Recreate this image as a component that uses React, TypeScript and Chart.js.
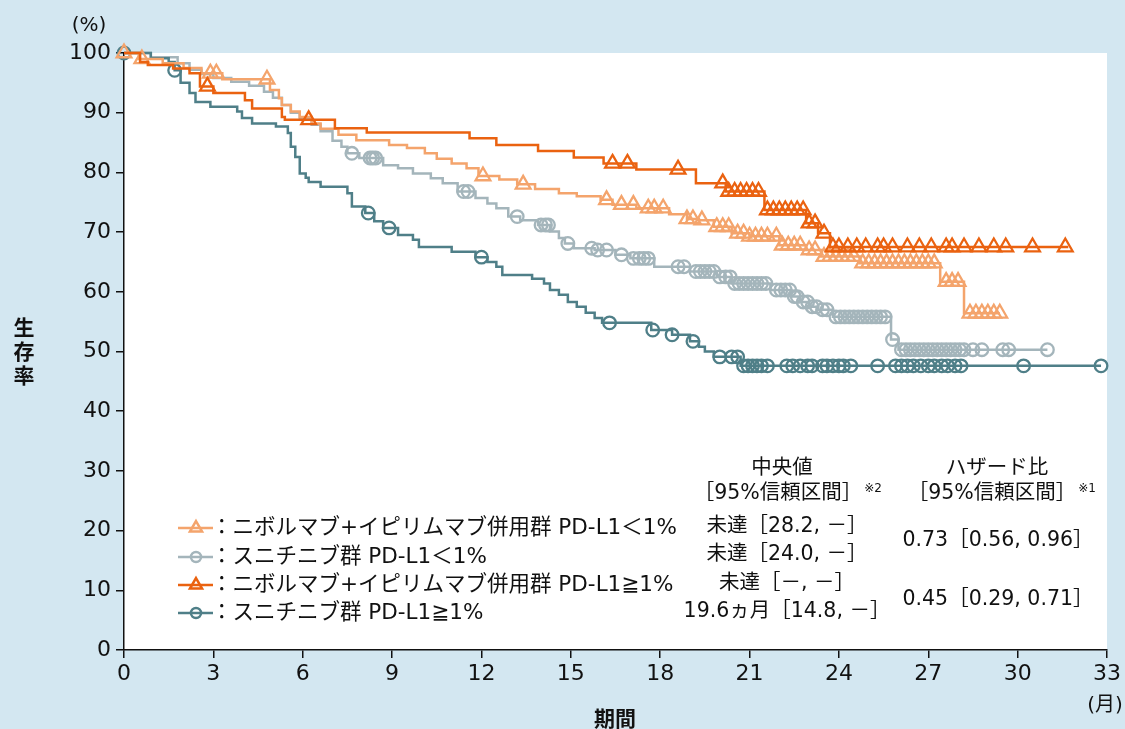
import React, { useEffect, useRef } from 'react';
import { Chart, registerables } from 'chart.js';

Chart.register(...registerables);

const FONT = '"DejaVu Sans", "Noto Sans CJK JP", sans-serif';
const JP_FONT = '"Noto Sans CJK JP", sans-serif';
const BG = '#d3e7f1';

const COLOR_NIVO_LOW = '#f4a46c';
const COLOR_SUNI_LOW = '#a4b5bb';
const COLOR_NIVO_HIGH = '#ea6210';
const COLOR_SUNI_HIGH = '#4f7f88';

const X_TICKS = [0, 3, 6, 9, 12, 15, 18, 21, 24, 27, 30, 33];
const Y_TICKS = [0, 10, 20, 30, 40, 50, 60, 70, 80, 90, 100];

// ニボルマブ+イピリムマブ併用群 PD-L1<1%
const nivoLowTimes = [0, 0.5, 1.3, 2.0, 2.6, 3.3, 4.9, 5.2, 5.3, 5.6, 5.9, 6.3, 6.6, 7.2, 7.8, 8.9, 9.5, 10.1, 10.5, 11.0, 11.5, 11.9, 12.6, 13.2, 13.8, 14.6, 15.2, 16.0, 16.4, 17.2, 18.3, 18.9, 19.3, 19.8, 20.4, 21.0, 22.0, 22.9, 23.4, 24.7, 27.4, 28.2];
const nivoLowSurv = [100, 99, 98.3, 97.5, 96.6, 95.6, 93.8, 92.4, 91.3, 90.2, 89.3, 88.2, 87.3, 86.3, 85.4, 84.6, 84.1, 83.2, 82.3, 81.5, 80.7, 79.4, 78.8, 78, 77.2, 76.5, 76, 75.4, 74.6, 74, 73, 72.2, 72, 70.9, 69.8, 69.3, 67.8, 67, 65.9, 64.8, 61.7, 56.4];
const nivoLowCensor = [0, 0.6, 2.9, 3.1, 4.8, 12.05, 13.4, 16.2, 16.7, 17.1, 17.6, 17.8, 18.1, 18.9, 19.1, 19.4, 19.9, 20.1, 20.3, 20.6, 20.8, 21.0, 21.2, 21.4, 21.6, 21.9, 22.1, 22.3, 22.5, 22.7, 23.0, 23.2, 23.5, 23.7, 23.9, 24.1, 24.3, 24.5, 24.8, 25.0, 25.2, 25.4, 25.6, 25.8, 26.0, 26.2, 26.4, 26.6, 26.8, 27.0, 27.2, 27.6, 27.8, 28.0, 28.4, 28.6, 28.8, 29.0, 29.2, 29.4];
const nivoLowEnd = 29.4;

// スニチニブ群 PD-L1<1%
const suniLowTimes = [0, 0.9, 1.8, 2.2, 2.6, 3.0, 3.6, 4.2, 4.7, 5.0, 5.3, 5.6, 5.9, 6.3, 6.6, 7.0, 7.3, 7.5, 7.9, 8.7, 9.2, 9.7, 10.3, 10.7, 11.2, 11.8, 12.2, 12.5, 12.9, 13.3, 13.9, 14.3, 14.6, 14.8, 15.1, 15.8, 16.5, 17.0, 17.8, 19.0, 19.9, 20.4, 21.7, 22.4, 22.7, 23.0, 23.3, 23.8, 25.75, 26.0];
const suniLowSurv = [100, 99.3, 98.3, 97.2, 96.5, 95.8, 95.2, 94.5, 93.5, 92.5, 91.3, 90, 89, 88, 86.9, 85.3, 84.3, 83.2, 82.4, 81.2, 80.7, 79.8, 79.0, 78.2, 76.8, 75.7, 74.8, 74.0, 72.6, 72.0, 71.2, 70.1, 69.0, 68.1, 67.3, 67.0, 66.2, 65.6, 64.2, 63.4, 62.5, 61.4, 60.3, 59.2, 58.3, 57.5, 57.0, 55.8, 52.0, 50.3];
const suniLowCensor = [7.65, 8.26, 8.35, 8.45, 11.4, 11.55, 13.2, 14.0, 14.15, 14.25, 14.9, 15.7, 15.9, 16.2, 16.7, 17.1, 17.3, 17.45, 17.6, 18.6, 18.8, 19.2, 19.35, 19.5, 19.65, 19.8, 20.0, 20.2, 20.35, 20.5, 20.65, 20.8, 20.95, 21.1, 21.25, 21.4, 21.55, 21.9, 22.05, 22.2, 22.35, 22.5, 22.6, 22.8, 22.95, 23.1, 23.25, 23.45, 23.6, 23.9, 24.05, 24.2, 24.35, 24.5, 24.65, 24.8, 24.95, 25.1, 25.25, 25.4, 25.55, 25.8, 26.1, 26.25, 26.4, 26.55, 26.7, 26.85, 27.0, 27.15, 27.3, 27.45, 27.6, 27.75, 27.9, 28.05, 28.2, 28.5, 28.8, 29.5, 29.7, 31.0];
const suniLowEnd = 31.0;

// ニボルマブ+イピリムマブ併用群 PD-L1≧1%
const nivoHighTimes = [0, 0.54, 0.8, 1.65, 2.2, 2.55, 3.0, 4.06, 4.3, 5.3, 5.4, 7.08, 8.15, 11.6, 12.5, 13.9, 15.1, 16.1, 17.2, 19.2, 20.2, 21.5, 22.9, 23.3, 23.7];
const nivoHighSurv = [100, 98.5, 98, 97.4, 96.6, 94.4, 93.3, 92.1, 90.7, 89.3, 88.8, 87.4, 86.7, 85.7, 84.6, 83.6, 82.5, 81.5, 80.5, 78.2, 76.8, 73.7, 71.5, 69.8, 67.5];
const nivoHighCensor = [2.8, 6.2, 16.4, 16.9, 18.6, 20.1, 20.3, 20.5, 20.7, 20.9, 21.1, 21.3, 21.6, 21.8, 22.0, 22.2, 22.4, 22.6, 22.8, 23.0, 23.2, 23.5, 23.8, 24.0, 24.3, 24.6, 24.9, 25.3, 25.5, 25.8, 26.3, 26.7, 27.1, 27.6, 27.8, 28.2, 28.7, 29.2, 29.6, 30.5, 31.6];
const nivoHighEnd = 31.7;

// スニチニブ群 PD-L1≧1%
const suniHighTimes = [0, 0.9, 1.5, 1.7, 1.9, 2.2, 2.4, 2.9, 3.8, 3.96, 4.3, 5.1, 5.5, 5.6, 5.75, 5.9, 6.1, 6.2, 6.6, 7.5, 7.65, 8.1, 8.4, 8.7, 9.2, 9.7, 9.9, 11.0, 11.8, 12.2, 12.5, 12.7, 13.7, 14.1, 14.3, 14.6, 14.9, 15.2, 15.5, 15.8, 16.05, 17.7, 18.4, 19.0, 19.3, 19.5, 19.8, 20.7];
const suniHighSurv = [100, 99.1, 98.5, 97.1, 95, 93.3, 91.8, 91.0, 90.2, 89.1, 88.2, 87.7, 86.6, 84.3, 82.6, 79.8, 79.1, 78.4, 77.6, 76.5, 74.3, 73.2, 71.8, 70.7, 69.5, 68.7, 67.5, 66.7, 65.8, 65.0, 64.2, 62.8, 62.2, 61.4, 60.3, 59.5, 58.3, 57.5, 56.5, 55.6, 54.8, 53.6, 52.8, 51.7, 50.8, 50.0, 49.1, 47.6];
const suniHighCensor = [0, 1.7, 8.2, 8.9, 12.0, 16.3, 17.75, 18.4, 19.1, 20.0, 20.4, 20.6, 20.8, 20.95, 21.1, 21.25, 21.4, 21.6, 22.25, 22.45, 22.7, 22.95, 23.1, 23.45, 23.6, 23.8, 24.0, 24.15, 24.4, 25.3, 25.9, 26.1, 26.3, 26.5, 26.75, 27.0, 27.2, 27.45, 27.65, 27.9, 28.1, 30.2, 32.8];
const suniHighEnd = 32.8;

const LEGEND_LABELS = [
  '：ニボルマブ+イピリムマブ併用群 PD-L1＜1%',
  '：スニチニブ群 PD-L1＜1%',
  '：ニボルマブ+イピリムマブ併用群 PD-L1≧1%',
  '：スニチニブ群 PD-L1≧1%',
];
const MEDIAN_HEADER = ['中央値', '［95%信頼区間］', '※2'];
const HR_HEADER = ['ハザード比', '［95%信頼区間］', '※1'];
const MEDIAN_VALUES = ['未達［28.2, －］', '未達［24.0, －］', '未達［－, －］', '19.6ヵ月［14.8, －］'];
const HR_VALUES = ['0.73［0.56, 0.96］', '0.45［0.29, 0.71］'];
const Y_TITLE = '生存率';
const X_TITLE = '期間';
const Y_UNIT = '(%)';
const X_UNIT = '(月)';

type Pt = { x: number; y: number };

function stepPoints(times: number[], surv: number[], end: number): Pt[] {
  const pts = times.map((t, i) => ({ x: t, y: surv[i] }));
  pts.push({ x: end, y: surv[surv.length - 1] });
  return pts;
}

function censorPoints(times: number[], surv: number[], censors: number[]): Pt[] {
  return censors.map((c) => {
    let v = surv[0];
    for (let i = 0; i < times.length; i++) if (times[i] <= c) v = surv[i];
    return { x: c, y: v };
  });
}

const SERIES = [
  { times: nivoHighTimes, surv: nivoHighSurv, censor: nivoHighCensor, end: nivoHighEnd, color: COLOR_NIVO_HIGH, style: 'triangle' },
  { times: nivoLowTimes, surv: nivoLowSurv, censor: nivoLowCensor, end: nivoLowEnd, color: COLOR_NIVO_LOW, style: 'triangle' },
  { times: suniHighTimes, surv: suniHighSurv, censor: suniHighCensor, end: suniHighEnd, color: COLOR_SUNI_HIGH, style: 'circle' },
  { times: suniLowTimes, surv: suniLowSurv, censor: suniLowCensor, end: suniLowEnd, color: COLOR_SUNI_LOW, style: 'circle' },
];

const LEGEND_ITEMS = [
  { color: COLOR_NIVO_LOW, style: 'triangle' },
  { color: COLOR_SUNI_LOW, style: 'circle' },
  { color: COLOR_NIVO_HIGH, style: 'triangle' },
  { color: COLOR_SUNI_HIGH, style: 'circle' },
];

function drawMarker(ctx: CanvasRenderingContext2D, style: string, x: number, y: number, r: number) {
  ctx.beginPath();
  if (style === 'triangle') {
    const a = (2 * Math.PI) / 3;
    ctx.moveTo(x, y - r);
    ctx.lineTo(x + Math.sin(a) * r, y - Math.cos(a) * r);
    ctx.lineTo(x + Math.sin(2 * a) * r, y - Math.cos(2 * a) * r);
    ctx.closePath();
  } else {
    ctx.arc(x, y, r, 0, Math.PI * 2);
  }
  ctx.stroke();
}

const bgPlugin = {
  id: 'bgPlugin',
  beforeDraw(chart: any) {
    const { ctx, chartArea: a, width, height } = chart;
    ctx.save();
    ctx.fillStyle = BG;
    ctx.fillRect(0, 0, width, height);
    ctx.fillStyle = '#ffffff';
    ctx.fillRect(a.left, a.top, a.right - a.left, a.bottom - a.top);
    ctx.restore();
  },
};

const textPlugin = {
  id: 'textPlugin',
  afterDraw(chart: any) {
    const ctx: CanvasRenderingContext2D = chart.ctx;
    const a = chart.chartArea;
    ctx.save();
    ctx.fillStyle = '#111';
    ctx.textBaseline = 'middle';

    // units
    ctx.font = `20px ${FONT}`;
    ctx.textAlign = 'center';
    ctx.fillText(Y_UNIT, 89, 26);
    ctx.fillText(X_UNIT, a.right - 2, 706);

    // axis titles
    ctx.font = `bold 21px ${JP_FONT}`;
    ctx.fillText(X_TITLE, 615, 718);
    const chars = Array.from(Y_TITLE);
    chars.forEach((ch, i) => ctx.fillText(ch, 24, 327 + i * 24));

    // legend
    const rowsY = [528, 557, 585, 613];
    LEGEND_ITEMS.forEach((it, i) => {
      const y = rowsY[i];
      ctx.strokeStyle = it.color;
      ctx.lineWidth = 2.5;
      ctx.beginPath();
      ctx.moveTo(178, y);
      ctx.lineTo(213, y);
      ctx.stroke();
      drawMarker(ctx, it.style, 196, y, it.style === 'triangle' ? 7 : 5);
      ctx.fillStyle = '#111';
      ctx.font = `21.5px ${FONT}`;
      ctx.textAlign = 'left';
      ctx.fillText(LEGEND_LABELS[i], 211, y);
    });

    // table
    ctx.font = `20.5px ${FONT}`;
    ctx.textAlign = 'center';
    ctx.fillText(MEDIAN_HEADER[0], 782, 469);
    ctx.fillText(MEDIAN_HEADER[1], 778, 494);
    ctx.fillText(HR_HEADER[0], 997, 469);
    ctx.fillText(HR_HEADER[1], 992, 494);
    const medY = [527, 555, 584, 612];
    MEDIAN_VALUES.forEach((t, i) => ctx.fillText(t, 787, medY[i]));
    const hrY = [541, 600];
    HR_VALUES.forEach((t, i) => ctx.fillText(t, 998, hrY[i]));
    const w1 = ctx.measureText(MEDIAN_HEADER[1]).width;
    const w2 = ctx.measureText(HR_HEADER[1]).width;
    ctx.font = `12px ${FONT}`;
    ctx.textAlign = 'left';
    ctx.fillText(MEDIAN_HEADER[2], 778 + w1 / 2 + 2, 489);
    ctx.fillText(HR_HEADER[2], 992 + w2 / 2 + 2, 489);
    ctx.restore();
  },
};

export default function App() {
  const ref = useRef<HTMLCanvasElement | null>(null);

  useEffect(() => {
    document.body.style.margin = '0';
    const canvas = ref.current;
    if (!canvas) return;
    Chart.defaults.font.family = FONT;

    const datasets: any[] = [];
    SERIES.forEach((s) => {
      datasets.push({
        type: 'scatter',
        data: censorPoints(s.times, s.surv, s.censor),
        showLine: false,
        pointStyle: s.style,
        pointRadius: s.style === 'triangle' ? 8.5 : 6.3,
        pointBorderWidth: 2.3,
        pointBorderColor: s.color,
        pointBackgroundColor: 'rgba(255,255,255,0)',
        borderColor: s.color,
        backgroundColor: 'rgba(255,255,255,0)',
        pointHoverRadius: 0,
        clip: false,
      });
      datasets.push({
        type: 'line',
        data: stepPoints(s.times, s.surv, s.end),
        stepped: 'before',
        borderColor: s.color,
        borderWidth: 2.5,
        pointRadius: 0,
        fill: false,
        clip: false,
      });
    });

    const chart = new Chart(canvas, {
      type: 'line',
      data: { datasets },
      options: {
        responsive: false,
        animation: false,
        events: [],
        layout: { padding: { top: 53, right: 18, left: 0, bottom: 0 } },
        plugins: { legend: { display: false }, tooltip: { enabled: false } },
        scales: {
          x: {
            type: 'linear',
            min: 0,
            max: 33,
            afterBuildTicks: (s: any) => {
              s.ticks = X_TICKS.map((v) => ({ value: v }));
            },
            afterFit: (s: any) => {
              s.height = 79;
            },
            ticks: { color: '#111', font: { size: 22 }, padding: 3, maxRotation: 0, autoSkip: false },
            grid: { drawOnChartArea: false, drawTicks: true, tickLength: 8, color: '#111', lineWidth: 1.5 },
            border: { display: true, color: '#111', width: 1.5 },
          },
          y: {
            type: 'linear',
            min: 0,
            max: 100,
            afterBuildTicks: (s: any) => {
              s.ticks = Y_TICKS.map((v) => ({ value: v }));
            },
            afterFit: (s: any) => {
              s.width = 124;
            },
            ticks: { color: '#111', font: { size: 22 }, padding: 5, autoSkip: false },
            grid: { drawOnChartArea: false, drawTicks: true, tickLength: 8, color: '#111', lineWidth: 1.5 },
            border: { display: true, color: '#111', width: 1.5 },
          },
        },
      } as any,
      plugins: [bgPlugin, textPlugin],
    });
    return () => chart.destroy();
  }, []);

  return (
    <div style={{ width: 1125, height: 729, background: BG }}>
      <canvas ref={ref} width={1125} height={729} style={{ display: 'block', width: 1125, height: 729 }} />
    </div>
  );
}
